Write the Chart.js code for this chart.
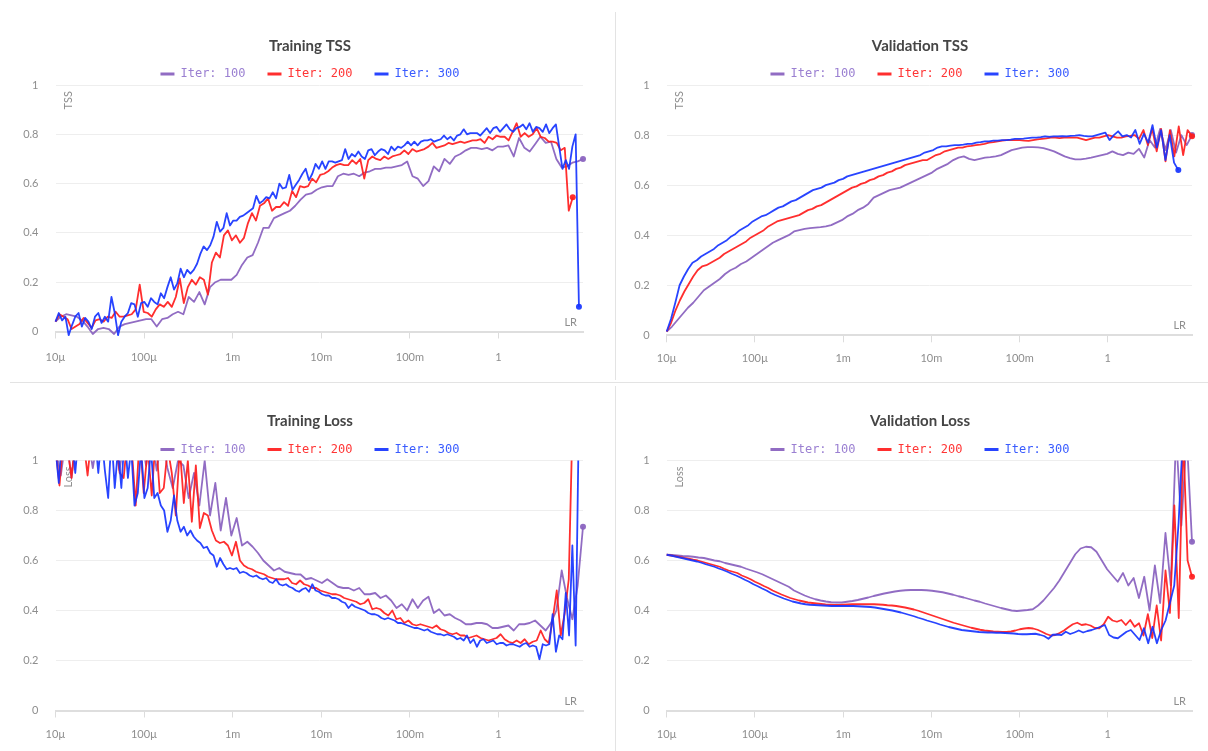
<!DOCTYPE html>
<html>
<head>
<meta charset="utf-8">
<title>LR range test</title>
<script src="https://cdn.jsdelivr.net/npm/chart.js@4.4.1/dist/chart.umd.min.js"></script>
<style>
  html, body { margin: 0; padding: 0; background: #ffffff; overflow: hidden; }
  #board { position: relative; width: 1208px; height: 751px; }
  #board canvas { position: absolute; }
  .vrule { position: absolute; left: 615px; width: 1px; background: #e3e3e3; }
  .hrule { position: absolute; left: 10px; top: 382px; width: 1198px; height: 1px; background: #e3e3e3; }
</style>
</head>
<body>
<div id="board">
  <div class="vrule" style="top:12px;height:368px"></div>
  <div class="vrule" style="top:386px;height:365px"></div>
  <div class="hrule"></div>
  <canvas id="trainTss" width="620" height="380" style="left:0;top:0"></canvas>
  <canvas id="valTss" width="592" height="380" style="left:616px;top:0"></canvas>
  <canvas id="trainLoss" width="620" height="366" style="left:0;top:385px"></canvas>
  <canvas id="valLoss" width="592" height="366" style="left:616px;top:385px"></canvas>
</div>
<script>
// ---- series names and x-axis ticks ----
const seriesNames = ['Iter: 100', 'Iter: 200', 'Iter: 300'];
const xTickValues = [1e-5, 1e-4, 1e-3, 1e-2, 1e-1, 1];
const xTickLabels = ['10µ', '100µ', '1m', '10m', '100m', '1'];
const lrStart = 1e-5;
const lrMax = 9;

// ---- Training TSS ----
const trainTssLrEnd = [9, 6.9, 8.1];
const trainTss100 = [
  .04,.06,.07,.065,.06,.045,.02,-.01,.01,.015,
  .01,-.01,.02,.03,.035,.04,.045,.05,.05,.02,
  .05,.055,.07,.08,.07,.14,.12,.16,.11,.18,
  .20,.21,.21,.21,.23,.27,.30,.31,.36,.42,
  .42,.46,.47,.48,.49,.51,.535,.555,.56,.575,
  .585,.59,.59,.63,.64,.635,.64,.63,.645,.65,
  .66,.66,.665,.665,.67,.675,.69,.63,.62,.59,
  .61,.67,.65,.70,.68,.71,.72,.735,.745,.745,
  .74,.745,.735,.75,.75,.755,.71,.785,.745,.73,
  .76,.79,.765,.77,.70,.665,.67,.685,.69,.70
];
const trainTss200 = [
  .04,.07,.06,.05,.01,.02,.03,.055,.035,.015,
  .045,.05,.04,.06,.055,.08,.06,.06,.065,.07,
  .09,.19,.08,.075,.06,.09,.11,.10,.12,.10,
  .14,.215,.115,.18,.21,.19,.22,.21,.15,.28,
  .32,.30,.39,.41,.37,.39,.36,.38,.44,.48,
  .45,.51,.52,.54,.49,.505,.505,.525,.51,.57,
  .545,.59,.585,.59,.62,.605,.635,.64,.65,.665,
  .675,.68,.675,.675,.695,.68,.70,.62,.695,.71,
  .70,.695,.71,.70,.71,.715,.72,.735,.72,.74,
  .73,.735,.74,.75,.765,.745,.75,.755,.765,.76,
  .765,.77,.765,.77,.775,.775,.78,.765,.79,.78,
  .795,.79,.79,.775,.81,.845,.79,.805,.79,.80,
  .825,.79,.785,.77,.77,.765,.735,.745,.49,.545
];
const trainTss300 = [
  .04,.075,.045,.06,-.015,.025,.06,.075,.02,.055,
  .04,.01,.06,.075,.035,.06,.04,.14,.075,-.015,
  .04,.06,.075,.115,.11,.06,.115,.12,.10,.135,
  .12,.11,.155,.135,.18,.22,.17,.195,.255,.22,
  .25,.235,.25,.275,.315,.345,.33,.35,.385,.445,
  .405,.42,.48,.43,.45,.45,.465,.47,.48,.49,
  .50,.55,.52,.53,.545,.54,.565,.54,.60,.58,
  .585,.635,.575,.595,.615,.64,.66,.614,.64,.68,
  .66,.69,.66,.69,.69,.685,.69,.695,.74,.70,
  .72,.71,.73,.71,.70,.735,.74,.715,.73,.74,
  .735,.72,.75,.735,.75,.745,.755,.77,.755,.77,
  .755,.77,.775,.775,.78,.77,.775,.78,.795,.78,
  .79,.775,.795,.80,.82,.80,.805,.805,.805,.795,
  .81,.825,.805,.825,.83,.81,.825,.84,.82,.81,
  .825,.83,.84,.82,.845,.81,.83,.825,.81,.84,
  .805,.825,.84,.75,.66,.695,.66,.75,.80,.10
];

// ---- Validation TSS ----
const valTssLrEnd = [9, 9, 6.3];
const valTss100 = [
  .015,.035,.06,.085,.11,.13,.155,.18,.195,.21,
  .225,.245,.26,.27,.285,.295,.31,.325,.34,.355,
  .37,.38,.39,.40,.415,.42,.425,.428,.43,.432,
  .435,.44,.45,.46,.475,.485,.50,.51,.525,.55,
  .56,.57,.58,.585,.59,.60,.61,.62,.63,.64,
  .65,.665,.675,.685,.70,.71,.715,.705,.70,.705,
  .71,.712,.715,.72,.73,.74,.745,.75,.752,.752,
  .751,.748,.742,.735,.725,.715,.708,.703,.703,.706,
  .71,.715,.72,.725,.735,.725,.72,.73,.725,.745,
  .71,.78,.75,.825,.74,.82,.73,.80,.76,.80
];
const valTss200 = [
  .015,.05,.10,.14,.175,.205,.235,.26,.275,.28,
  .29,.30,.31,.325,.335,.345,.355,.365,.375,.39,
  .40,.41,.42,.435,.445,.455,.46,.465,.47,.475,
  .48,.49,.50,.505,.515,.52,.53,.54,.55,.56,
  .57,.58,.59,.595,.605,.61,.62,.625,.635,.64,
  .65,.655,.665,.67,.68,.685,.69,.695,.70,.70,
  .71,.72,.725,.735,.74,.745,.75,.75,.755,.757,
  .76,.762,.765,.77,.772,.775,.778,.78,.78,.78,
  .78,.778,.777,.78,.783,.785,.787,.79,.79,.788,
  .79,.79,.79,.79,.785,.78,.785,.79,.79,.795,
  .80,.795,.79,.79,.795,.797,.80,.785,.82,.76,
  .825,.735,.825,.695,.82,.715,.835,.72,.82,.795
];
const valTss300 = [
  .015,.065,.13,.20,.235,.265,.29,.30,.315,.325,
  .335,.345,.36,.37,.38,.395,.405,.42,.43,.44,
  .455,.465,.475,.48,.49,.50,.51,.515,.525,.535,
  .54,.55,.56,.57,.58,.585,.59,.60,.605,.61,
  .62,.625,.635,.64,.645,.65,.655,.66,.665,.67,
  .675,.68,.685,.69,.695,.70,.705,.71,.715,.72,
  .73,.735,.74,.75,.755,.755,.758,.76,.76,.762,
  .765,.765,.77,.772,.775,.775,.778,.778,.78,.78,
  .782,.785,.785,.786,.788,.79,.79,.792,.795,.793,
  .795,.795,.796,.795,.797,.798,.80,.797,.795,.795,
  .80,.805,.81,.78,.80,.815,.795,.80,.79,.82,
  .765,.805,.77,.84,.75,.82,.70,.80,.69,.66
];

// ---- Training Loss ----
const trainLossLrEnd = [9, 6.9, 8.1];
const trainLoss100 = [
  1.05,.94,1.1,.93,1.1,1.08,1.1,.97,1.1,1.05,
  1.1,1.1,.96,1.1,1.1,1.05,1.1,.98,1.1,.96,
  1.1,.97,.89,1.0,.98,.85,.95,.82,1.0,.78,
  .91,.72,.85,.70,.77,.66,.675,.655,.63,.60,
  .58,.56,.57,.555,.55,.545,.544,.525,.53,.52,
  .51,.525,.51,.495,.49,.49,.48,.49,.465,.465,
  .47,.45,.46,.44,.41,.425,.40,.445,.41,.44,
  .455,.39,.405,.38,.385,.37,.36,.345,.345,.35,
  .35,.345,.33,.33,.335,.34,.32,.345,.345,.35,
  .36,.34,.32,.35,.40,.56,.45,.365,.50,.735
];
const trainLoss200 = [
  1.05,.90,1.1,1.05,.93,1.1,1.1,1.08,.94,1.1,
  1.1,1.05,1.1,1.1,1.08,1.1,.95,.93,1.1,1.05,
  .82,1.1,.87,1.05,.86,1.1,.87,.89,1.05,.95,
  .78,1.05,.83,1.0,.755,.98,.73,.79,.78,.72,
  .68,.67,.675,.66,.62,.675,.60,.58,.57,.565,
  .555,.55,.545,.535,.53,.525,.525,.525,.53,.51,
  .505,.52,.505,.50,.49,.49,.48,.475,.47,.465,
  .465,.46,.45,.445,.44,.435,.425,.43,.445,.405,
  .41,.405,.39,.38,.40,.365,.37,.35,.36,.345,
  .34,.345,.34,.335,.33,.34,.325,.32,.31,.305,
  .31,.30,.30,.29,.295,.30,.29,.285,.28,.285,
  .29,.305,.285,.275,.27,.28,.27,.285,.265,.275,
  .28,.32,.285,.27,.365,.48,.30,.39,.525,1.2
];
const trainLoss300 = [
  1.05,.91,1.1,1.05,1.1,1.1,.95,1.1,1.08,1.1,
  1.1,1.05,1.1,.95,1.1,.96,.85,1.1,.89,1.05,
  .89,1.1,.93,1.05,.82,.87,1.05,.85,.89,1.05,
  .85,.87,.82,.80,.715,.76,.86,.76,.715,.735,
  .70,.72,.695,.68,.67,.65,.655,.63,.62,.575,
  .61,.585,.565,.57,.565,.57,.55,.555,.55,.54,
  .535,.54,.53,.525,.53,.515,.51,.525,.505,.50,
  .505,.495,.49,.48,.475,.485,.49,.475,.505,.48,
  .475,.465,.46,.46,.45,.45,.445,.435,.43,.41,
  .425,.415,.41,.405,.40,.39,.385,.385,.38,.37,
  .365,.37,.365,.36,.35,.35,.345,.34,.335,.33,
  .33,.325,.32,.325,.315,.31,.305,.305,.30,.305,
  .30,.295,.285,.29,.28,.30,.27,.285,.255,.28,
  .285,.27,.275,.28,.265,.27,.27,.26,.265,.265,
  .26,.255,.265,.27,.255,.26,.255,.205,.265,.26,
  .265,.385,.235,.30,.285,.47,.30,.66,.26,1.2
];

// ---- Validation Loss ----
const valLossLrEnd = [9, 9, 7.1];
const valLoss100 = [
  .623,.622,.62,.618,.617,.615,.612,.61,.605,.60,
  .597,.59,.585,.58,.575,.567,.56,.553,.545,.535,
  .525,.515,.505,.495,.48,.47,.46,.452,.445,.44,
  .436,.433,.432,.432,.435,.438,.442,.447,.452,.458,
  .463,.468,.472,.476,.479,.481,.482,.482,.482,.481,
  .479,.476,.473,.468,.463,.457,.452,.446,.44,.435,
  .428,.422,.416,.41,.405,.40,.398,.40,.402,.405,
  .42,.44,.465,.49,.52,.555,.59,.625,.648,.655,
  .653,.635,.60,.565,.54,.515,.55,.50,.53,.45,
  .535,.40,.58,.43,.71,.50,1.1,.74,1.1,.675
];
const valLoss200 = [
  .623,.62,.617,.614,.61,.607,.603,.60,.595,.59,
  .585,.58,.575,.567,.56,.555,.55,.54,.533,.525,
  .515,.507,.498,.49,.48,.472,.464,.457,.45,.445,
  .44,.436,.432,.43,.428,.426,.424,.423,.422,.422,
  .423,.424,.425,.425,.425,.425,.425,.425,.424,.423,
  .421,.42,.418,.415,.412,.408,.404,.399,.393,.387,
  .381,.375,.369,.363,.357,.351,.346,.341,.336,.331,
  .327,.323,.32,.318,.316,.315,.314,.314,.316,.32,
  .325,.328,.33,.328,.323,.315,.306,.30,.302,.31,
  .32,.333,.345,.351,.342,.345,.34,.33,.329,.345,
  .375,.36,.355,.362,.342,.362,.335,.349,.30,.385,
  .29,.42,.28,.56,.39,.82,.37,1.1,.60,.535
];
const valLoss300 = [
  .623,.62,.616,.612,.608,.604,.60,.596,.591,.585,
  .58,.575,.568,.562,.555,.547,.54,.532,.523,.515,
  .505,.497,.488,.48,.47,.462,.455,.448,.442,.436,
  .432,.428,.425,.423,.422,.421,.42,.419,.418,.418,
  .418,.418,.418,.418,.417,.416,.415,.414,.412,.409,
  .406,.403,.40,.396,.392,.387,.382,.377,.371,.366,
  .36,.355,.35,.344,.339,.334,.33,.326,.322,.32,
  .318,.316,.314,.313,.312,.312,.311,.311,.31,.309,
  .308,.306,.305,.305,.306,.307,.303,.298,.287,.303,
  .304,.302,.315,.306,.312,.32,.312,.318,.322,.328,
  .335,.342,.302,.292,.289,.302,.315,.322,.302,.282,
  .329,.269,.335,.269,.322,.36,.43,.50,.75,1.1
];

// ---- styling ----
const lineColors = ['rgba(139,100,192,0.95)', 'rgba(255,28,28,0.92)', 'rgba(22,52,255,0.92)'];
const legendTextColors = ['#9b80d2', '#ff3535', '#3a5cff'];
const axisGrey = '#8e8e8e';
Chart.defaults.font.family = 'Lato, "Open Sans", sans-serif';

// learning rate grows geometrically from lrStart to the run's final LR
function toPoints(values, lrEnd) {
  const a = Math.log10(lrStart), b = Math.log10(lrEnd), n = values.length;
  return values.map((y, i) => ({ x: Math.pow(10, a + (b - a) * i / (n - 1)), y }));
}

// axis captions drawn inside the plot area, under the lines
const innerAxisTitles = {
  id: 'innerAxisTitles',
  beforeDatasetsDraw(chart, args, opts) {
    const { ctx, chartArea: a } = chart;
    ctx.save();
    ctx.fillStyle = axisGrey;
    ctx.font = '11px Lato, sans-serif';
    ctx.textBaseline = 'middle';
    ctx.textAlign = 'right';
    ctx.fillText(opts.x, a.right - 6, a.bottom - 9.5);
    ctx.translate(a.left + 13, a.top + 6);
    ctx.rotate(-Math.PI / 2);
    ctx.fillText(opts.y, 0, 0);
    ctx.restore();
  }
};

// keeps the legend row snug above the plot area
const compactLegend = {
  id: 'compactLegend',
  afterInit(chart) {
    const lg = chart.legend;
    if (!lg || lg._compact) return;
    const fit = lg.fit;
    lg.fit = function () { fit.call(this); this.height -= 5; };
    lg._compact = true;
  }
};

function makePanel(cfg) {
  const datasets = cfg.series.map((vals, k) => {
    const n = vals.length;
    return {
      label: seriesNames[k],
      data: toPoints(vals, cfg.lrEnds[k]),
      borderColor: lineColors[k],
      backgroundColor: lineColors[k],
      borderWidth: 1.8,
      borderJoinStyle: 'round',
      pointRadius: c => (c.dataIndex === n - 1 ? 3 : 0),
      pointBorderWidth: 0,
      pointHoverRadius: 0,
      tension: 0,
      order: 3 - k,
      clip: { left: 3, top: 0, right: 8, bottom: 6 }
    };
  });

  return new Chart(document.getElementById(cfg.canvas), {
    type: 'line',
    data: { datasets },
    plugins: [innerAxisTitles, compactLegend],
    options: {
      responsive: false,
      animation: false,
      events: [],
      layout: { padding: { left: cfg.padL, right: cfg.padR, top: 0, bottom: 0 } },
      plugins: {
        title: {
          display: true,
          text: cfg.title,
          color: '#454545',
          font: { size: 15, weight: 'bold', lineHeight: 1.2 },
          padding: { top: cfg.titleTop, bottom: cfg.titleBottom }
        },
        legend: {
          display: true,
          position: 'top',
          labels: {
            usePointStyle: true,
            pointStyle: 'line',
            pointStyleWidth: 14,
            padding: 22,
            font: { family: '"DejaVu Sans Mono", monospace', size: 12 },
            sort: (a, b) => a.datasetIndex - b.datasetIndex,
            generateLabels(chart) {
              const items = Chart.defaults.plugins.legend.labels.generateLabels(chart);
              items.forEach(it => {
                it.fontColor = legendTextColors[it.datasetIndex];
                it.lineWidth = 3;
                it.pointStyle = 'line';
              });
              return items;
            }
          }
        },
        tooltip: { enabled: false },
        innerAxisTitles: { x: 'LR', y: cfg.yTitle }
      },
      scales: {
        x: {
          type: 'logarithmic',
          min: lrStart,
          max: lrMax,
          afterBuildTicks: s => { s.ticks = xTickValues.map(v => ({ value: v })); },
          afterFit: s => { s.height = cfg.xHeight; },
          ticks: {
            autoSkip: false,
            maxRotation: 0,
            padding: cfg.xTickPad,
            color: axisGrey,
            font: { size: 11 },
            callback: (v, i) => xTickLabels[i]
          },
          grid: { drawOnChartArea: false, drawTicks: true, tickLength: 7, color: '#dcdcdc', lineWidth: 1 },
          border: { display: true, color: '#dedede', width: 2 }
        },
        y: {
          min: 0,
          max: 1,
          afterFit: s => {
            s.width = cfg.yWidth;
            // tick labels sit left of the narrow axis box; let them show in full
            s._computeLabelArea = () => undefined;
          },
          ticks: {
            stepSize: 0.2,
            padding: 17,
            color: axisGrey,
            font: { size: 11 },
            callback: v => String(Number(v.toFixed(2)))
          },
          grid: { color: '#eeeeee', drawTicks: false, lineWidth: 1 },
          border: { display: false }
        }
      }
    }
  });
}

makePanel({
  canvas: 'trainTss', title: 'Training TSS', yTitle: 'TSS',
  series: [trainTss100, trainTss200, trainTss300], lrEnds: trainTssLrEnd,
  padL: 37, padR: 37, yWidth: 18.5, xHeight: 48.5, titleTop: 37, titleBottom: -9, xTickPad: 12.5
});
makePanel({
  canvas: 'valTss', title: 'Validation TSS', yTitle: 'TSS',
  series: [valTss100, valTss200, valTss300], lrEnds: valTssLrEnd,
  padL: 32, padR: 16, yWidth: 18.7, xHeight: 44.7, titleTop: 37, titleBottom: -9, xTickPad: 9.7
});
makePanel({
  canvas: 'trainLoss', title: 'Training Loss', yTitle: 'Loss',
  series: [trainLoss100, trainLoss200, trainLoss300], lrEnds: trainLossLrEnd,
  padL: 37, padR: 37, yWidth: 18.5, xHeight: 40.5, titleTop: 27, titleBottom: -8.5, xTickPad: 10.5
});
makePanel({
  canvas: 'valLoss', title: 'Validation Loss', yTitle: 'Loss',
  series: [valLoss100, valLoss200, valLoss300], lrEnds: valLossLrEnd,
  padL: 32, padR: 16, yWidth: 18.7, xHeight: 40.5, titleTop: 27, titleBottom: -8.5, xTickPad: 10.5
});
</script>
</body>
</html>
